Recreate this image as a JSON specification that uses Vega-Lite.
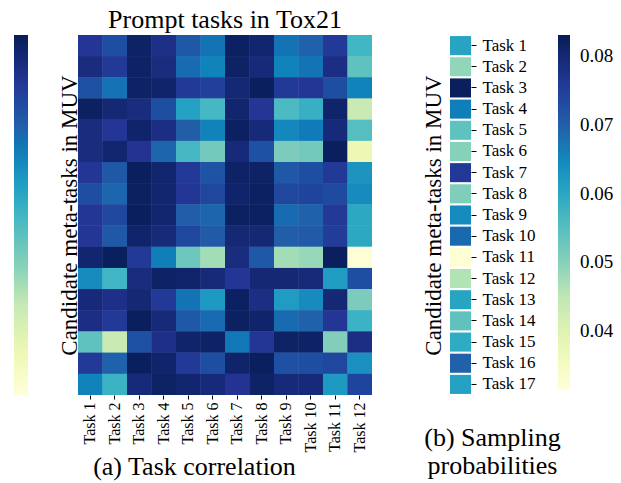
{
  "$schema": "https://vega.github.io/schema/vega-lite/v6.json",
  "padding": {"left": 14, "top": 7, "right": 5, "bottom": 5},
  "config": {
    "font": "Liberation Serif",
    "view": {"stroke": null},
    "axis": {"labelColor": "black", "titleColor": "black", "tickColor": "black", "titleFontWeight": "normal", "labelFont": "Liberation Serif", "titleFont": "Liberation Serif"},
    "legend": {"labelColor": "black", "labelFont": "Liberation Serif"},
    "title": {"color": "black", "fontWeight": "normal", "font": "Liberation Serif"}
  },
  "bounds": "flush",
  "spacing": 78,
  "resolve": {"scale": {"color": "independent"}, "legend": {"color": "independent"}},
  "hconcat": [
    {
      "width": 294,
      "height": 360,
      "title": {"text": "Prompt tasks in Tox21", "font": "Liberation Serif", "fontSize": 26, "offset": 2, "frame": "group", "anchor": "middle"},
      "data": {"values": [
        {"r":1,"c":1,"v":0.87},{"r":1,"c":2,"v":0.80},{"r":1,"c":3,"v":0.97},{"r":1,"c":4,"v":0.90},{"r":1,"c":5,"v":0.77},{"r":1,"c":6,"v":0.70},{"r":1,"c":7,"v":0.98},{"r":1,"c":8,"v":0.95},{"r":1,"c":9,"v":0.70},{"r":1,"c":10,"v":0.74},{"r":1,"c":11,"v":0.86},{"r":1,"c":12,"v":0.50},
        {"r":2,"c":1,"v":0.92},{"r":2,"c":2,"v":0.86},{"r":2,"c":3,"v":0.97},{"r":2,"c":4,"v":0.92},{"r":2,"c":5,"v":0.72},{"r":2,"c":6,"v":0.66},{"r":2,"c":7,"v":0.97},{"r":2,"c":8,"v":0.93},{"r":2,"c":9,"v":0.66},{"r":2,"c":10,"v":0.70},{"r":2,"c":11,"v":0.91},{"r":2,"c":12,"v":0.44},
        {"r":3,"c":1,"v":0.79},{"r":3,"c":2,"v":0.70},{"r":3,"c":3,"v":0.97},{"r":3,"c":4,"v":0.96},{"r":3,"c":5,"v":0.86},{"r":3,"c":6,"v":0.84},{"r":3,"c":7,"v":0.94},{"r":3,"c":8,"v":0.99},{"r":3,"c":9,"v":0.86},{"r":3,"c":10,"v":0.87},{"r":3,"c":11,"v":0.80},{"r":3,"c":12,"v":0.66},
        {"r":4,"c":1,"v":0.98},{"r":4,"c":2,"v":0.94},{"r":4,"c":3,"v":0.92},{"r":4,"c":4,"v":0.80},{"r":4,"c":5,"v":0.57},{"r":4,"c":6,"v":0.49},{"r":4,"c":7,"v":0.95},{"r":4,"c":8,"v":0.87},{"r":4,"c":9,"v":0.48},{"r":4,"c":10,"v":0.52},{"r":4,"c":11,"v":0.96},{"r":4,"c":12,"v":0.24},
        {"r":5,"c":1,"v":0.92},{"r":5,"c":2,"v":0.87},{"r":5,"c":3,"v":0.96},{"r":5,"c":4,"v":0.91},{"r":5,"c":5,"v":0.75},{"r":5,"c":6,"v":0.66},{"r":5,"c":7,"v":0.98},{"r":5,"c":8,"v":0.93},{"r":5,"c":9,"v":0.65},{"r":5,"c":10,"v":0.68},{"r":5,"c":11,"v":0.93},{"r":5,"c":12,"v":0.46},
        {"r":6,"c":1,"v":0.92},{"r":6,"c":2,"v":0.95},{"r":6,"c":3,"v":0.88},{"r":6,"c":4,"v":0.73},{"r":6,"c":5,"v":0.49},{"r":6,"c":6,"v":0.40},{"r":6,"c":7,"v":0.93},{"r":6,"c":8,"v":0.79},{"r":6,"c":9,"v":0.38},{"r":6,"c":10,"v":0.40},{"r":6,"c":11,"v":0.99},{"r":6,"c":12,"v":0.12},
        {"r":7,"c":1,"v":0.87},{"r":7,"c":2,"v":0.77},{"r":7,"c":3,"v":0.99},{"r":7,"c":4,"v":0.95},{"r":7,"c":5,"v":0.86},{"r":7,"c":6,"v":0.78},{"r":7,"c":7,"v":0.97},{"r":7,"c":8,"v":0.97},{"r":7,"c":9,"v":0.77},{"r":7,"c":10,"v":0.80},{"r":7,"c":11,"v":0.86},{"r":7,"c":12,"v":0.62},
        {"r":8,"c":1,"v":0.80},{"r":8,"c":2,"v":0.73},{"r":8,"c":3,"v":0.98},{"r":8,"c":4,"v":0.95},{"r":8,"c":5,"v":0.87},{"r":8,"c":6,"v":0.82},{"r":8,"c":7,"v":0.96},{"r":8,"c":8,"v":0.98},{"r":8,"c":9,"v":0.82},{"r":8,"c":10,"v":0.83},{"r":8,"c":11,"v":0.81},{"r":8,"c":12,"v":0.64},
        {"r":9,"c":1,"v":0.87},{"r":9,"c":2,"v":0.82},{"r":9,"c":3,"v":0.99},{"r":9,"c":4,"v":0.95},{"r":9,"c":5,"v":0.75},{"r":9,"c":6,"v":0.73},{"r":9,"c":7,"v":0.98},{"r":9,"c":8,"v":0.98},{"r":9,"c":9,"v":0.72},{"r":9,"c":10,"v":0.74},{"r":9,"c":11,"v":0.86},{"r":9,"c":12,"v":0.55},
        {"r":10,"c":1,"v":0.87},{"r":10,"c":2,"v":0.77},{"r":10,"c":3,"v":0.96},{"r":10,"c":4,"v":0.93},{"r":10,"c":5,"v":0.82},{"r":10,"c":6,"v":0.76},{"r":10,"c":7,"v":0.94},{"r":10,"c":8,"v":0.94},{"r":10,"c":9,"v":0.75},{"r":10,"c":10,"v":0.76},{"r":10,"c":11,"v":0.85},{"r":10,"c":12,"v":0.55},
        {"r":11,"c":1,"v":0.95},{"r":11,"c":2,"v":0.99},{"r":11,"c":3,"v":0.86},{"r":11,"c":4,"v":0.67},{"r":11,"c":5,"v":0.41},{"r":11,"c":6,"v":0.31},{"r":11,"c":7,"v":0.92},{"r":11,"c":8,"v":0.77},{"r":11,"c":9,"v":0.31},{"r":11,"c":10,"v":0.33},{"r":11,"c":11,"v":0.99},{"r":11,"c":12,"v":0.01},
        {"r":12,"c":1,"v":0.64},{"r":12,"c":2,"v":0.50},{"r":12,"c":3,"v":0.92},{"r":12,"c":4,"v":0.97},{"r":12,"c":5,"v":0.96},{"r":12,"c":6,"v":0.93},{"r":12,"c":7,"v":0.87},{"r":12,"c":8,"v":0.94},{"r":12,"c":9,"v":0.94},{"r":12,"c":10,"v":0.93},{"r":12,"c":11,"v":0.59},{"r":12,"c":12,"v":0.80},
        {"r":13,"c":1,"v":0.93},{"r":13,"c":2,"v":0.90},{"r":13,"c":3,"v":0.94},{"r":13,"c":4,"v":0.86},{"r":13,"c":5,"v":0.70},{"r":13,"c":6,"v":0.60},{"r":13,"c":7,"v":0.98},{"r":13,"c":8,"v":0.91},{"r":13,"c":9,"v":0.59},{"r":13,"c":10,"v":0.64},{"r":13,"c":11,"v":0.94},{"r":13,"c":12,"v":0.38},
        {"r":14,"c":1,"v":0.91},{"r":14,"c":2,"v":0.86},{"r":14,"c":3,"v":0.99},{"r":14,"c":4,"v":0.93},{"r":14,"c":5,"v":0.77},{"r":14,"c":6,"v":0.72},{"r":14,"c":7,"v":0.98},{"r":14,"c":8,"v":0.96},{"r":14,"c":9,"v":0.72},{"r":14,"c":10,"v":0.74},{"r":14,"c":11,"v":0.87},{"r":14,"c":12,"v":0.51},
        {"r":15,"c":1,"v":0.44},{"r":15,"c":2,"v":0.24},{"r":15,"c":3,"v":0.79},{"r":15,"c":4,"v":0.90},{"r":15,"c":5,"v":0.96},{"r":15,"c":6,"v":0.97},{"r":15,"c":7,"v":0.69},{"r":15,"c":8,"v":0.87},{"r":15,"c":9,"v":0.97},{"r":15,"c":10,"v":0.97},{"r":15,"c":11,"v":0.37},{"r":15,"c":12,"v":0.91},
        {"r":16,"c":1,"v":0.86},{"r":16,"c":2,"v":0.74},{"r":16,"c":3,"v":0.99},{"r":16,"c":4,"v":0.96},{"r":16,"c":5,"v":0.86},{"r":16,"c":6,"v":0.80},{"r":16,"c":7,"v":0.96},{"r":16,"c":8,"v":0.99},{"r":16,"c":9,"v":0.79},{"r":16,"c":10,"v":0.80},{"r":16,"c":11,"v":0.82},{"r":16,"c":12,"v":0.63},
        {"r":17,"c":1,"v":0.66},{"r":17,"c":2,"v":0.51},{"r":17,"c":3,"v":0.93},{"r":17,"c":4,"v":0.97},{"r":17,"c":5,"v":0.95},{"r":17,"c":6,"v":0.93},{"r":17,"c":7,"v":0.88},{"r":17,"c":8,"v":0.97},{"r":17,"c":9,"v":0.93},{"r":17,"c":10,"v":0.93},{"r":17,"c":11,"v":0.60},{"r":17,"c":12,"v":0.83}
      ]},
      "encoding": {
        "x": {"field": "c", "type": "ordinal", "axis": {"title": "(a) Task correlation", "titleFont": "Liberation Serif", "labelFont": "Liberation Serif", "titleFontSize": 26, "titleFontWeight": "normal", "titleBaseline": "alphabetic", "titleAlign": "center", "titleX": 116, "titleY": 79, "labelExpr": "'Task ' + datum.value", "labelAngle": -90, "labelFontSize": 16, "labelAlign": "right", "labelBaseline": "middle", "labelPadding": 3, "tickSize": 4, "domain": false}},
        "y": {"field": "r", "type": "ordinal", "axis": {"title": "Candidate meta-tasks in MUV", "titleFont": "Liberation Serif", "titleFontSize": 23, "titleFontWeight": "normal", "titleBaseline": "alphabetic", "titlePadding": 2, "labels": false, "ticks": false, "domain": false}},
        "color": {"field": "v", "type": "quantitative", "scale": {"domain": [0, 0.125, 0.25, 0.375, 0.5, 0.625, 0.75, 0.875, 1], "range": ["#ffffd9", "#edf8b1", "#c7e9b4", "#7fcdbb", "#41b6c4", "#1d91c0", "#225ea8", "#253494", "#081d58"]}, "legend": {"orient": "left", "type": "gradient", "title": null, "gradientLength": 360, "gradientThickness": 14, "labelExpr": "''", "labelOffset": 0, "offset": 30, "gradientStrokeWidth": 0}}
      },
      "layer": [
        {"mark": {"type": "rect"}},
        {"mark": {"type": "rect"}}
      ]
    },
    {
      "width": 21,
      "height": 360,
      "title": {"text": ["(b) Sampling", "probabilities"], "font": "Liberation Serif", "orient": "bottom", "fontSize": 26, "lineHeight": 28, "frame": "group", "anchor": "middle", "dx": 32, "offset": 30, "baseline": "top"},
      "data": {"values": [
        {"t":1,"p":0.0604},{"t":2,"p":0.049},{"t":3,"p":0.0826},{"t":4,"p":0.066},{"t":5,"p":0.054},{"t":6,"p":0.050},{"t":7,"p":0.076},{"t":8,"p":0.0508},{"t":9,"p":0.0645},{"t":10,"p":0.0687},{"t":11,"p":0.032},{"t":12,"p":0.046},{"t":13,"p":0.0604},{"t":14,"p":0.054},{"t":15,"p":0.0593},{"t":16,"p":0.0697},{"t":17,"p":0.061}
      ]},
      "mark": {"type": "rect"},
      "encoding": {
        "y": {"field": "t", "type": "ordinal", "scale": {"paddingInner": 0.1}, "axis": {"orient": "right", "title": "Candidate meta-tasks in MUV", "titleFont": "Liberation Serif", "labelFont": "Liberation Serif", "titleFontSize": 23, "titleFontWeight": "normal", "titleAngle": -90, "titleBaseline": "alphabetic", "titleAlign": "center", "titleX": -31, "titleY": 180, "labelExpr": "'Task ' + datum.value", "labelFontSize": 17, "tickSize": 5, "labelPadding": 6, "domain": false}},
        "color": {"field": "p", "type": "quantitative", "scale": {"domain": [0.0314, 0.0378625, 0.044325, 0.0507875, 0.05725, 0.0636625, 0.070075, 0.0765375, 0.0831], "range": ["#ffffd9", "#edf8b1", "#c7e9b4", "#7fcdbb", "#41b6c4", "#1d91c0", "#225ea8", "#253494", "#081d58"]}, "legend": {"orient": "right", "title": null, "gradientLength": 355, "gradientThickness": 12, "values": [0.04, 0.05, 0.06, 0.07, 0.08], "format": ".2f", "labelFont": "Liberation Serif", "labelFontSize": 19, "labelOffset": 10, "offset": 22, "gradientStrokeWidth": 0}}
      }
    }
  ]
}
